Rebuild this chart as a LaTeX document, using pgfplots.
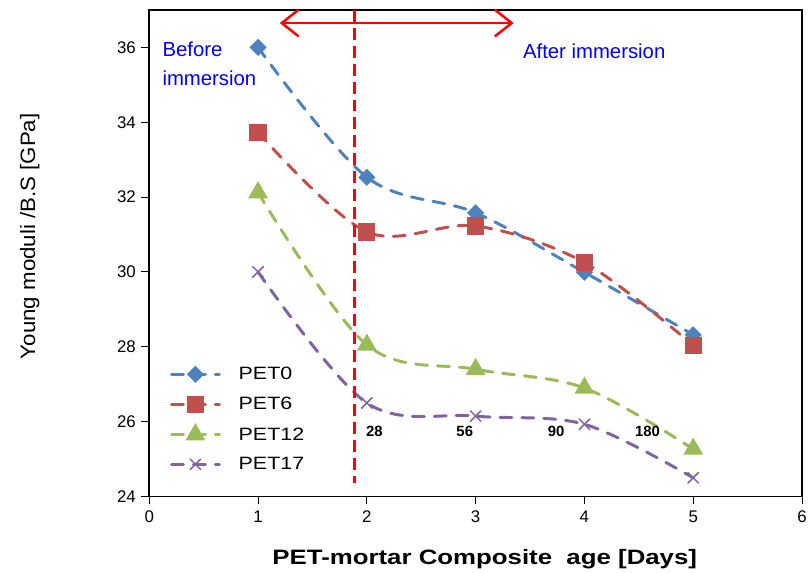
\documentclass[border=0pt]{standalone}
\usepackage{fontspec}
\setmainfont{Liberation Sans}
\usepackage{graphicx}
\usepackage{pgfplots}
\pgfplotsset{compat=1.18}
\usetikzlibrary{arrows.meta}
\definecolor{cA}{HTML}{4F81BD}
\definecolor{cB}{HTML}{C0504D}
\definecolor{cC}{HTML}{9BBB59}
\definecolor{cD}{HTML}{8064A2}
\begin{document}
\begin{tikzpicture}
\begin{axis}[
  name=ax,
  scale only axis, width=656bp, height=489bp,
  xmin=0, xmax=6, ymin=24, ymax=37,
  xtick={0,1,2,3,4,5,6}, ytick={24,26,28,30,32,34,36},
  tick pos=left, tick align=outside, major tick length=8bp,
  axis line style={line width=1.6bp},
  every tick/.style={black, line width=1bp},
  /pgf/number format/assume math mode=true,
  ticklabel style={font=\fontsize{17}{20}\selectfont},
  xticklabel style={yshift=-3bp},
  yticklabel style={xshift=-2bp},
  xlabel={\scalebox{1.24}[1]{\bfseries PET-mortar Composite\ \ age [Days]}},
  ylabel={\scalebox{1.07}[1]{Young moduli /B.S [GPa]}},
  xlabel style={at={(axis description cs:0.514,-0.129)}, anchor=center, font=\fontsize{21}{24}\selectfont},
  ylabel style={at={(axis description cs:-0.183,0.535)}, anchor=center, font=\fontsize{21}{24}\selectfont},
  legend style={draw=none, fill=none, at={(axis description cs:0.027,0.272)}, anchor=north west,
    font=\fontsize{18}{20}\selectfont, row sep=14bp, legend cell align=left,
    nodes={inner sep=1bp}},
  /tikz/every odd column/.append style={column sep=17bp},
  legend image code/.code={\draw[mark repeat=2,mark phase=2] plot coordinates {(0bp,0bp) (24bp,0bp) (48bp,0bp)};},
]
\addplot[cA, line width=3bp, line cap=round, dash pattern=on 12bp off 10bp, smooth, tension=0.55,
  mark=square*, mark size=4.6bp, mark options={solid, rotate=45, fill=cA}]
  coordinates {(1,36.0) (2,32.53) (3,31.58) (4,29.99) (5,28.32)};
\addlegendentry{\scalebox{1.2}[1]{PET0}}
\addplot[cB, line width=3bp, line cap=round, dash pattern=on 12bp off 10bp, smooth, tension=0.55,
  mark=square*, mark size=7.2bp, mark options={solid, fill=cB}]
  coordinates {(1,33.73) (2,31.07) (3,31.23) (4,30.25) (5,28.04)};
\addlegendentry{\scalebox{1.2}[1]{PET6}}
\addplot[cC, line width=3bp, line cap=round, dash pattern=on 12bp off 10bp, smooth, tension=0.55,
  mark=triangle*, mark size=8.5bp, mark options={solid, fill=cC}]
  coordinates {(1,32.12) (2,28.05) (3,27.4) (4,26.9) (5,25.27)};
\addlegendentry{\scalebox{1.2}[1]{PET12}}
\addplot[cD, line width=3bp, line cap=round, dash pattern=on 12bp off 10bp, smooth, tension=0.55,
  mark=x, mark size=7.5bp, mark options={solid, line width=1.5bp}]
  coordinates {(1,30.0) (2,26.5) (3,26.15) (4,25.93) (5,24.5)};
\addlegendentry{\scalebox{1.2}[1]{PET17}}
\draw[red, line width=2.5bp, dash pattern=on 12bp off 6bp] (axis cs:1.885,37) -- (axis cs:1.885,24.37);
\draw[red, line width=2.5bp, {Straight Barb[length=17bp,width=27bp]}-{Straight Barb[length=17bp,width=27bp]}]
  (axis cs:1.2,36.65) -- (axis cs:3.35,36.65);
\node[blue, align=left, anchor=west, font=\fontsize{20.5}{29}\selectfont, inner sep=0pt]
  at (axis cs:0.12,35.56) {Before\\immersion};
\node[blue, anchor=center, font=\fontsize{20.5}{24}\selectfont, inner sep=0pt]
  at (axis cs:4.09,35.89) {After immersion};
\node[font=\bfseries\fontsize{15}{18}\selectfont] at (axis cs:2.07,25.75) {28};
\node[font=\bfseries\fontsize{15}{18}\selectfont] at (axis cs:2.9,25.75) {56};
\node[font=\bfseries\fontsize{15}{18}\selectfont] at (axis cs:3.74,25.75) {90};
\node[font=\bfseries\fontsize{15}{18}\selectfont] at (axis cs:4.58,25.75) {180};
\end{axis}
\path (ax.south west) ++(-150bp,-76bp);
\path (ax.north east) ++(4bp,10bp);
\end{tikzpicture}
\end{document}
